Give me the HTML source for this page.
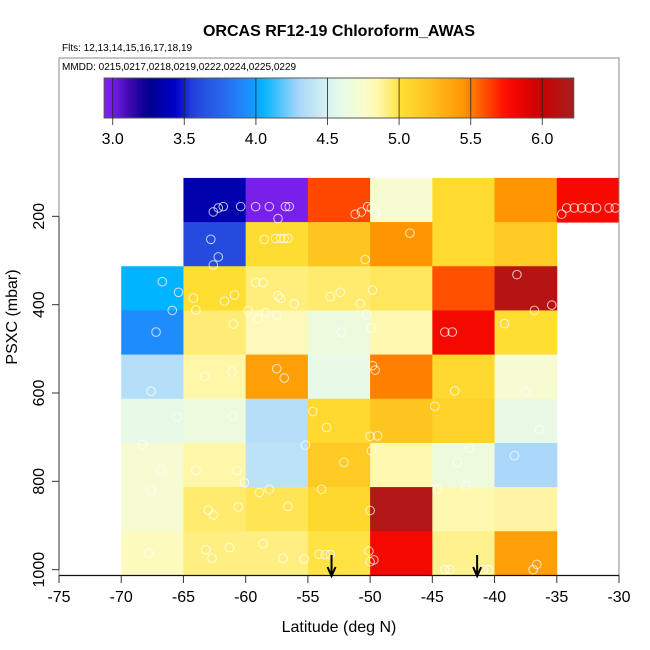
<!DOCTYPE html>
<html><head><meta charset="utf-8"><style>
html,body{margin:0;padding:0;background:#fff;}
svg{display:block;font-family:"Liberation Sans",Arial,sans-serif;}
</style></head><body>
<svg id="chart" width="650" height="650" viewBox="0 0 650 650">
<text x="339" y="36" font-size="16" font-weight="bold" text-anchor="middle">ORCAS RF12-19 Chloroform_AWAS</text>
<text x="62" y="51" font-size="10">Flts: 12,13,14,15,16,17,18,19</text>
<g id="cells"></g>
<g id="points"></g>
<rect x="59" y="58" width="560" height="517.5" fill="none" stroke="#888" stroke-width="1"/>
<text x="62" y="70" font-size="10">MMDD: 0215,0217,0218,0219,0222,0224,0225,0229</text>
<g id="cbar"></g>
<g id="axes"></g>
<text x="339" y="632" font-size="16" text-anchor="middle">Latitude (deg N)</text>
<text x="0" y="0" font-size="16" text-anchor="middle" transform="translate(17,317) rotate(-90)">PSXC (mbar)</text>
</svg>
<script>
// ---- data ----
const latEdges = [-70,-65,-60,-55,-50,-45,-40,-35,-30];
const presEdges = [113,213,313,413,513,613,713,813,913,1013];
const row0 = [null,3.35,2.97,5.62,4.72,5.04,5.45,5.78];
const row1 = [null,3.6,5.03,5.18,5.45,5.04,5.15,null];
const row2 = [4.05,5.02,4.93,4.95,4.97,5.6,6.12,null];
const row3 = [3.93,4.94,4.82,4.65,4.85,5.8,5.02,null];
const row4 = [4.35,4.86,5.4,4.6,5.5,5.05,4.72,null];
const row5 = [4.6,4.65,4.35,5.05,5.18,5.1,4.62,null];
const row6 = [4.72,4.86,4.38,5.15,4.85,4.65,4.3,null];
const row7 = [4.72,4.95,4.98,5.06,6.15,4.85,4.87,null];
const row8 = [4.8,4.92,4.92,5.0,5.8,4.9,5.4,null];
const cellRows = [row0,row1,row2,row3,row4,row5,row6,row7,row8];
const ptLat = [-62.2,-62.6,-61.8,-60.4,-59.2,-58.1,-57.4,-56.8,-56.5,-51.2,-50.7,-50.2,-49.9,-49.6,-46.8,-34.6,-34.2,-33.6,-33.0,-32.4,-31.8,-30.8,-30.3,
 -62.8,-62.2,-62.6,-58.5,-57.6,-57.2,-56.9,-56.6,-50.4,
 -66.7,-65.4,-65.9,-64.2,-61.7,-60.9,-59.2,-58.6,-57.4,-57.2,-56.1,-53.2,-52.4,-50.8,-49.8,-38.2,-35.4,
 -67.2,-64.0,-61.0,-59.8,-59.0,-58.4,-57.5,-52.3,-50.3,-49.9,-44.0,-43.4,-39.2,-36.8,
 -67.6,-63.3,-61.1,-57.5,-56.9,-49.8,-49.6,-43.2,-37.5,
 -68.3,-65.5,-61.0,-54.6,-53.5,-50.0,-49.4,-44.8,-36.4,
 -67.6,-64.0,-60.7,-60.1,-55.2,-52.1,-49.9,-43.0,-42.0,-38.4,
 -66.8,-63.0,-62.6,-60.6,-58.9,-58.1,-56.6,-53.9,-50.0,-44.6,-42.3,
 -67.8,-63.2,-62.7,-61.3,-58.6,-57.0,-55.3,-54.1,-53.6,-53.2,-50.1,-50.0,-49.7,-44.0,-43.6,-40.9,-40.5,-36.9,-36.6];
const ptPres = [181,190,178,178,178,178,205,178,178,195,190,178,181,193,238,195,181,181,181,181,181,181,181,
 252,292,310,252,250,250,250,250,298,
 348,372,413,385,392,378,350,350,380,386,398,382,372,398,367,332,401,
 462,412,444,413,432,418,424,462,422,453,462,462,443,413,
 596,562,552,545,566,538,548,595,597,
 717,654,652,642,678,698,697,630,683,
 820,775,776,803,718,757,731,757,725,742,
 775,865,876,858,825,818,857,818,866,818,810,
 962,955,974,950,941,974,976,965,966,966,958,982,978,1000,1000,1000,1000,1000,988];
const cbTicks = [3.0,3.5,4.0,4.5,5.0,5.5,6.0];
const xTicks = [-75,-70,-65,-60,-55,-50,-45,-40,-35,-30];
const yTicks = [200,400,600,800,1000];
const arrowLats = [-53.1,-41.4];

// ---- scales ----
const xS = v => 59 + (v + 75) * 560 / 45;
const yS = p => 128 + p * 0.44167;
const cS = v => 112.7 + (v - 3.0) * 143.2;
const stops = [[2.94,[128,32,240]],[3.02,[110,30,225]],[3.1,[70,10,180]],[3.25,[0,0,140]],[3.45,[0,0,205]],[3.55,[35,65,218]],[3.75,[40,100,235]],[3.95,[30,144,255]],[4.05,[0,180,255]],[4.3,[170,215,250]],[4.55,[225,248,240]],[4.75,[250,252,205]],[4.85,[255,248,175]],[4.95,[255,235,110]],[5.02,[255,222,50]],[5.2,[255,195,30]],[5.45,[255,150,0]],[5.75,[255,10,0]],[5.98,[205,0,0]],[6.22,[165,32,32]]];
function col(v){
  if(v<=stops[0][0]) return 'rgb('+stops[0][1]+')';
  for(let i=1;i<stops.length;i++){
    if(v<=stops[i][0]){
      const a=stops[i-1],b=stops[i],t=(v-a[0])/(b[0]-a[0]);
      return 'rgb('+a[1].map((c,k)=>Math.round(c+(b[1][k]-c)*t)).join(',')+')';
    }
  }
  return 'rgb('+stops[stops.length-1][1]+')';
}
const NS='http://www.w3.org/2000/svg';
function mk(tag,attrs,parent){const e=document.createElementNS(NS,tag);for(const k in attrs)e.setAttribute(k,attrs[k]);parent.appendChild(e);return e;}

const gC=document.getElementById('cells');
cellRows.forEach((row,r)=>{row.forEach((v,c)=>{
  if(v===null) return;
  const x0=xS(latEdges[c]),x1=xS(latEdges[c+1]),y0=yS(presEdges[r]),y1=yS(presEdges[r+1]);
  const e=mk('rect',{x:x0,y:y0,width:x1-x0+0.5,height:y1-y0+0.5,fill:col(v)},gC);
  
  
});});
const gP=document.getElementById('points');
ptLat.forEach((la,i)=>{
  const e=mk('circle',{cx:xS(la),cy:yS(ptPres[i]),r:4.3,fill:'none',stroke:'rgba(255,255,255,0.75)','stroke-width':1},gP);
  
  
});
const gB=document.getElementById('cbar');
const grad=mk('linearGradient',{id:'cg',x1:'0',x2:'1',y1:'0',y2:'0'},mk('defs',{},gB));
const vMin=2.94,vMax=6.22;
for(let i=0;i<=60;i++){const v=vMin+(vMax-vMin)*i/60;mk('stop',{offset:(i/60),'stop-color':col(v)},grad);}
const cb=mk('rect',{x:cS(vMin),y:78,width:cS(vMax)-cS(vMin),height:40,fill:'url(#cg)',stroke:'#555','stroke-width':1},gB);


cbTicks.forEach(t=>{
  const x=cS(t);
  const l=mk('line',{x1:x,x2:x,y1:78,y2:125,stroke:'#222','stroke-width':1,'stroke-opacity':0.8},gB);
  
  
  const tx=mk('text',{x:x,y:144,'font-size':16,'text-anchor':'middle'},gB);
  tx.textContent=t.toFixed(1);
  
  
});
const gA=document.getElementById('axes');
mk('line',{x1:59,x2:619,y1:575.5,y2:575.5,stroke:'#111','stroke-width':1.2},gA);
mk('line',{x1:59,x2:59,y1:yS(200),y2:yS(1000),stroke:'#555','stroke-width':1.2},gA);
xTicks.forEach(t=>{
  const x=xS(t);
  mk('line',{x1:x,x2:x,y1:575.5,y2:583,stroke:'#333'},gA);
  const tx=mk('text',{x:x,y:602,'font-size':16,'text-anchor':'middle'},gA);
  tx.textContent=t;
  
  
});
yTicks.forEach(t=>{
  const y=yS(t);
  mk('line',{x1:52,x2:59,y1:y,y2:y,stroke:'#333'},gA);
  const tx=mk('text',{x:0,y:0,'font-size':16,'text-anchor':'middle',transform:'translate(44,'+y+') rotate(-90)'},gA);
  tx.textContent=t;
  
  
});
arrowLats.forEach(la=>{
  const x=xS(la);
  const g=mk('g',{},gA);
  
  
  mk('line',{x1:x,x2:x,y1:555,y2:575,stroke:'#000','stroke-width':2},g);
  mk('polyline',{points:(x-4)+',567 '+x+',576 '+(x+4)+',567',fill:'none',stroke:'#000','stroke-width':2},g);
});
</script>
</body></html>
